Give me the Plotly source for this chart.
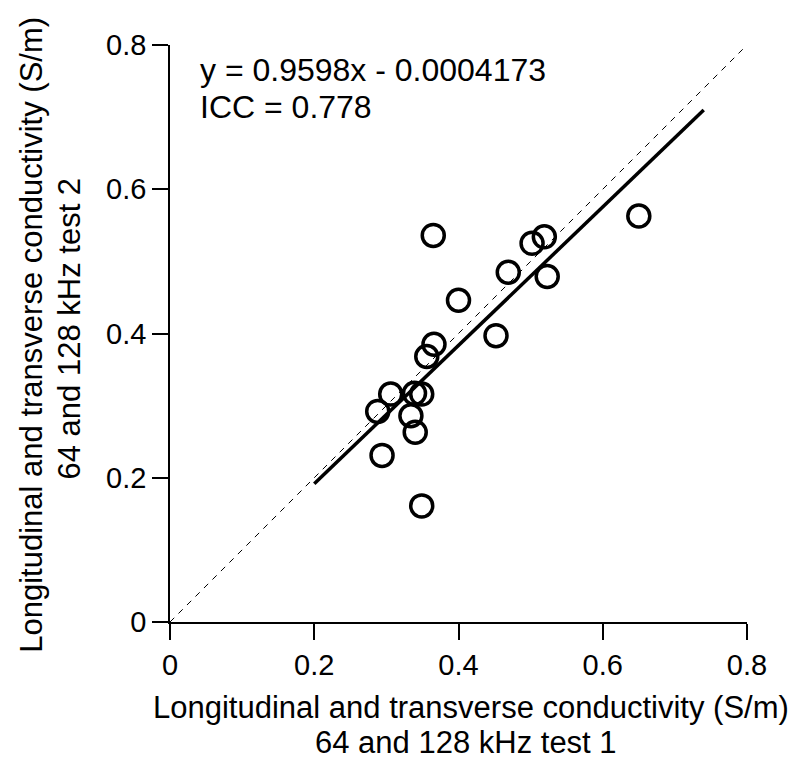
import plotly.graph_objects as go

# conductivity readings (S/m)
test1 = [0.365, 0.650, 0.502, 0.519, 0.523, 0.469, 0.400, 0.452, 0.366,
         0.356, 0.306, 0.339, 0.349, 0.288, 0.334, 0.340, 0.294, 0.349]
test2 = [0.536, 0.563, 0.525, 0.534, 0.479, 0.485, 0.446, 0.397, 0.385,
         0.368, 0.316, 0.317, 0.316, 0.292, 0.286, 0.263, 0.231, 0.161]

# regression fit shown on the chart
slope = 0.9598
intercept = -0.0004173
fit_x = [0.2, 0.74]
fit_y = [slope * x + intercept for x in fit_x]

# line of identity
identity = [0, 0.8]

tick_vals = [0, 0.2, 0.4, 0.6, 0.8]
tick_text = ['0', '0.2', '0.4', '0.6', '0.8']

FONT = 'Liberation Sans, Arial, sans-serif'

fig = go.Figure()

fig.add_trace(go.Scatter(
    x=identity, y=identity, mode='lines',
    line=dict(color='black', width=1, dash='6px,6px'),
    hoverinfo='skip'
))
fig.add_trace(go.Scatter(
    x=fit_x, y=fit_y, mode='lines',
    line=dict(color='black', width=3.5)
))
fig.add_trace(go.Scatter(
    x=test1, y=test2, mode='markers',
    marker=dict(symbol='circle-open', size=22, color='black',
                line=dict(color='black', width=3.5))
))

axis_style = dict(
    range=[0, 0.8],
    tickvals=tick_vals,
    ticktext=tick_text,
    showline=True,
    linecolor='black',
    linewidth=1.5,
    ticks='outside',
    ticklen=16,
    tickwidth=1.5,
    tickcolor='black',
    showgrid=False,
    zeroline=False,
    tickfont=dict(family=FONT, size=29, color='black'),
)

fig.update_xaxes(**axis_style)
fig.update_yaxes(**axis_style)

def note(text, x, y, size=31, angle=0, xanchor='center'):
    fig.add_annotation(
        text=text, x=x, y=y, xref='paper', yref='paper',
        showarrow=False, textangle=angle, xanchor=xanchor, yanchor='middle',
        font=dict(family=FONT, size=size, color='black')
    )

# equation and ICC
note('y = 0.9598x - 0.0004173', 0.048, 0.957, size=32, xanchor='left')
note('ICC = 0.778', 0.048, 0.8925, size=32, xanchor='left')

# axis titles
note('Longitudinal and transverse conductivity (S/m)', 0.522, -0.149)
note('64 and 128 kHz test 1', 0.513, -0.208)
note('Longitudinal and transverse conductivity (S/m)', -0.24, 0.497, angle=-90)
note('64 and 128 kHz test 2', -0.174, 0.508, angle=-90)

# the page body adds an 8px offset, so the figure is 8px smaller than the window
fig.update_layout(
    width=793,
    height=753,
    margin=dict(l=162, r=54, t=37, b=139),
    plot_bgcolor='white',
    paper_bgcolor='white',
    showlegend=False,
    font=dict(family=FONT, color='black'),
)

fig.write_html("out.html")
